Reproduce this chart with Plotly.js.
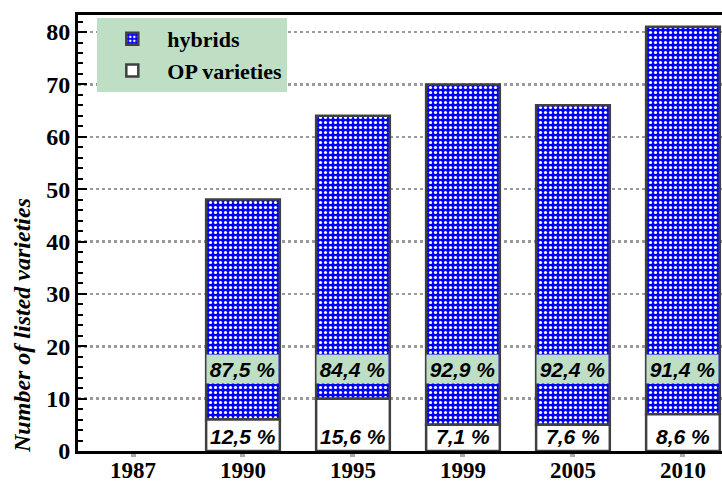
<!DOCTYPE html>
<html>
<head>
<meta charset="utf-8">
<script src="https://cdn.plot.ly/plotly-3.0.1.min.js"></script>
<style>html,body{margin:0;padding:0;background:#fff;}#chart{width:722px;height:482px;}</style>
</head>
<body>
<div id="chart"></div>
<script>
const years = ['1987', '1990', '1995', '1999', '2005', '2010'];
const opVarieties = [0, 6, 10, 5, 5, 7];
const hybrids = [0, 42, 54, 65, 61, 74];
const hybridPct = ['', '87,5 %', '84,4 %', '92,9 %', '92,4 %', '91,4 %'];
const opPct = ['', '12,5 %', '15,6 %', '7,1 %', '7,6 %', '8,6 %'];
const yTicks = [0, 10, 20, 30, 40, 50, 60, 70, 80];

const xIdx = years.map((_, i) => i);
const green = '#bfdfc5';
const serif = 'Liberation Serif, Times New Roman, serif';
const sans = 'Liberation Sans, Arial, sans-serif';
const outline = '#404040';
// no outline where the bar has zero height
const hybLine = xIdx.map(i => (hybrids[i] > 0 ? 2.5 : 0));
const opLine = xIdx.map(i => (opVarieties[i] > 0 ? 2.5 : 0));
const hybPattern = {shape: '.', fgcolor: '#ffffff', bgcolor: '#0000ff', size: 5, solidity: 0.32, fillmode: 'replace'};

const traces = [
  {
    type: 'bar', name: 'hybrids', x: xIdx, y: hybrids, base: opVarieties,
    width: 0.67, showlegend: false,
    marker: {color: '#0000ff', line: {color: outline, width: hybLine}, pattern: hybPattern},
    hoverinfo: 'skip'
  },
  {
    type: 'bar', name: 'OP varieties', x: xIdx, y: opVarieties,
    width: 0.67, showlegend: false,
    marker: {color: '#ffffff', line: {color: outline, width: opLine}},
    hoverinfo: 'skip'
  },
  // legend entries (no data drawn)
  {
    type: 'bar', name: 'hybrids', x: [null], y: [null],
    marker: {color: '#0000ff', line: {color: outline, width: 2.5}, pattern: hybPattern},
    hoverinfo: 'skip'
  },
  {
    type: 'bar', name: 'OP varieties', x: [null], y: [null],
    marker: {color: '#ffffff', line: {color: outline, width: 2.5}},
    hoverinfo: 'skip'
  }
];

const annotations = [];
xIdx.forEach(i => {
  if (hybridPct[i]) {
    annotations.push({
      x: i, y: 15.65, xref: 'x', yref: 'y', text: '<b><i>' + hybridPct[i] + '</i></b>',
      showarrow: false, bgcolor: green, width: 71, height: 28, borderpad: 0,
      font: {family: sans, size: 21, color: '#000'}
    });
  }
  if (opPct[i]) {
    annotations.push({
      x: i, y: 2.7, xref: 'x', yref: 'y', text: '<b><i>' + opPct[i] + '</i></b>',
      showarrow: false, font: {family: sans, size: 21, color: '#000'}
    });
  }
});
annotations.push({
  xref: 'paper', yref: 'paper', x: -0.087, y: 0.289, xanchor: 'center', yanchor: 'middle',
  textangle: -90,
  text: '<b><i>Number of listed varieties</i></b>', showarrow: false,
  font: {family: serif, size: 24, color: '#000'}
});

const layout = {
  width: 722, height: 482,
  margin: {l: 78, r: 0, t: 15, b: 31},
  paper_bgcolor: '#ffffff', plot_bgcolor: '#ffffff',
  barmode: 'overlay',
  showlegend: true,
  legend: {
    x: 0.03, y: 0.993, xanchor: 'left', yanchor: 'top',
    bgcolor: green, bordercolor: green, borderwidth: 0,
    traceorder: 'normal',
    font: {family: serif, size: 22, color: '#000', weight: 'bold'},
    itemwidth: 60
  },
  xaxis: {
    range: [-0.5, 5.355], tickmode: 'array', tickvals: xIdx, ticktext: years,
    showline: true, linecolor: '#000', linewidth: 3, mirror: true,
    ticks: 'outside', ticklen: 3, tickwidth: 5, tickcolor: '#aaaaaa',
    ticklabelstandoff: -7,
    showgrid: false, zeroline: false,
    tickfont: {family: serif, size: 23, color: '#000', weight: 'bold'}
  },
  yaxis: {
    range: [0, 83.25], tickmode: 'array', tickvals: yTicks,
    showline: true, linecolor: '#000', linewidth: 3,
    ticks: 'inside', ticklen: 9, tickwidth: 2, tickcolor: '#000',
    minor: {dtick: 2, ticks: 'inside', ticklen: 5, tickwidth: 2, tickcolor: '#000', showgrid: false},
    showgrid: true, gridcolor: '#9a9a9a', griddash: 'dot', gridwidth: 2.5,
    zeroline: false,
    tickfont: {family: serif, size: 24, color: '#000', weight: 'bold'}
  },
  annotations: annotations
};

Plotly.newPlot('chart', traces, layout, {displayModeBar: false, staticPlot: true});
</script>
</body>
</html>
